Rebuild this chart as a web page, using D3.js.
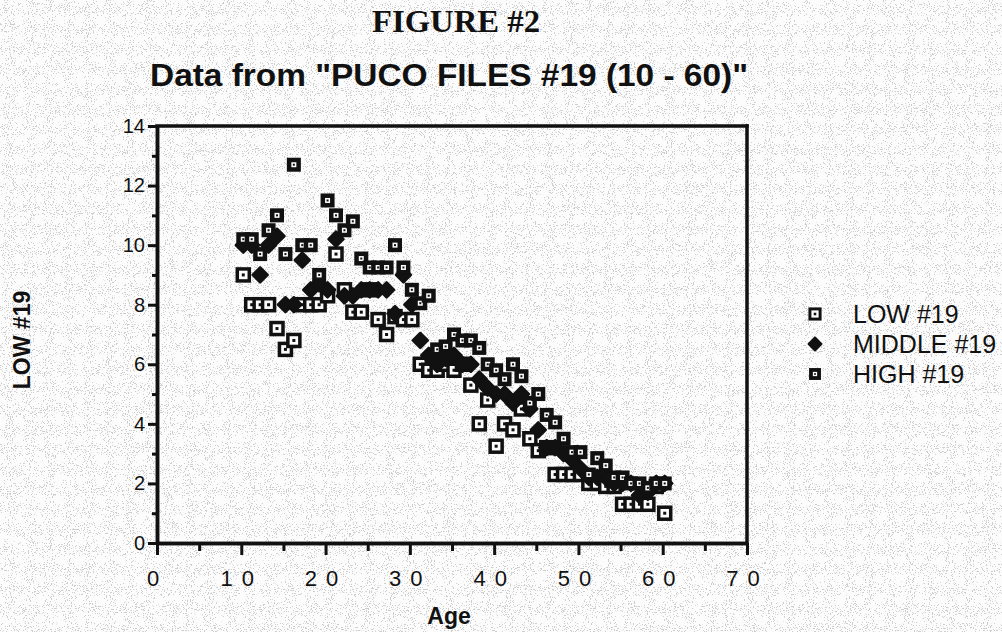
<!DOCTYPE html>
<html>
<head>
<meta charset="utf-8">
<script src="https://cdn.jsdelivr.net/npm/d3@7"></script>
<style>
	body { margin: 0; background: #fcfcfc; }
	svg { display: block; }
	text { fill: #111; }
</style>
</head>
<body>
<div id="visHolder"></div>
<script>
const ages = d3.range(10, 61);
const lowValues = [
	9.0, 8.0, 8.0, 8.0, 7.2, 6.5, 6.8, 8.0, 8.0, 8.0,
	8.3, 9.7, 8.5, 7.75, 7.75, 8.5, 7.5, 7.0, 7.6, 7.5,
	7.5, 6.0, 5.8, 5.8, 6.0, 5.8, 6.0, 5.3, 4.0, 4.8,
	3.25, 4.0, 3.8, 4.5, 3.5, 3.1, 3.2, 2.3, 2.3, 2.3,
	2.3, 2.0, 2.0, 1.9, 1.9, 1.3, 1.3, 1.3, 1.3, 1.9,
	1.0,
];
const middleValues = [
	10.0, 10.0, 9.0, 10.0, 10.3, 8.0, 8.0, 9.5, 8.5, 8.7,
	8.5, 10.2, 8.3, 8.3, 8.5, 8.5, 8.5, 8.5, 7.7, 9.0,
	8.0, 6.8, 6.3, 6.0, 6.2, 6.3, 6.0, 6.0, 5.5, 5.2,
	5.0, 5.0, 4.7, 5.0, 4.5, 3.8, 3.2, 3.2, 3.0, 2.8,
	2.5, 2.2, 2.2, 2.2, 2.0, 2.0, 2.0, 1.6, 1.7, 2.0,
	2.0,
];
const highValues = [
	10.2, 10.2, 9.7, 10.5, 11.0, 9.7, 12.7, 10.0, 10.0, 9.0,
	11.5, 11.0, 10.5, 10.8, 9.55, 9.25, 9.25, 9.25, 10.0, 9.25,
	8.5, 8.05, 8.3, 6.5, 6.6, 7.0, 6.8, 6.8, 6.55, 6.0,
	5.8, 5.5, 6.0, 5.6, 4.7, 5.0, 4.3, 4.05, 3.5, 3.05,
	3.05, 2.3, 2.85, 2.6, 2.2, 2.2, 2.0, 2.0, 1.85, 2.0,
	2.0,
];
const seriesNames = ["LOW #19", "MIDDLE #19", "HIGH #19"];
const xTicks = [0, 10, 20, 30, 40, 50, 60, 70];
const yTicks = [0, 2, 4, 6, 8, 10, 12, 14];

const width = 1002;
const height = 632;
const ink = "#111";
const paper = "#fcfcfc";
const sans = "Liberation Sans, Arial, sans-serif";

const svg = d3
	.select("#visHolder")
	.append("svg")
	.attr("width", width)
	.attr("height", height);

//paper speckle
const defs = svg.append("defs");
const noise = defs
	.append("filter")
	.attr("id", "paper")
	.attr("x", 0)
	.attr("y", 0)
	.attr("width", "100%")
	.attr("height", "100%");
noise
	.append("feTurbulence")
	.attr("type", "fractalNoise")
	.attr("baseFrequency", 0.95)
	.attr("numOctaves", 2)
	.attr("seed", 7)
	.attr("result", "n");
noise
	.append("feColorMatrix")
	.attr("in", "n")
	.attr("type", "matrix")
	.attr("values", "0 0 0 0 0.35  0 0 0 0 0.35  0 0 0 0 0.35  0 0 0 -22 8.4");
svg.append("rect").attr("width", width).attr("height", height).attr("fill", paper);
svg
	.append("rect")
	.attr("width", width)
	.attr("height", height)
	.attr("filter", "url(#paper)")
	.attr("opacity", 0.5);

const x = d3.scaleLinear().domain([0, 70]).range([157, 747]);
const y = d3.scaleLinear().domain([0, 14]).range([543, 126]);

//titles
svg
	.append("text")
	.text("FIGURE #2")
	.attr("x", 456)
	.attr("y", 32)
	.attr("text-anchor", "middle")
	.attr("textLength", 168)
	.attr("lengthAdjust", "spacingAndGlyphs")
	.attr("font-family", "Liberation Serif, serif")
	.attr("font-weight", "bold")
	.attr("font-size", 31);

svg
	.append("text")
	.text('Data from "PUCO FILES #19 (10 - 60)"')
	.attr("x", 150)
	.attr("y", 86)
	.attr("textLength", 598)
	.attr("lengthAdjust", "spacingAndGlyphs")
	.attr("font-family", sans)
	.attr("font-weight", "bold")
	.attr("font-size", 31);

//frame
const frame = svg
	.append("g")
	.attr("stroke", ink)
	.attr("stroke-width", 3.5)
	.attr("stroke-linecap", "square")
	.attr("fill", "none");
frame.append("line").attr("x1", x(0)).attr("x2", x(70)).attr("y1", y(14)).attr("y2", y(14));
frame.append("line").attr("x1", x(70)).attr("x2", x(70)).attr("y1", y(14)).attr("y2", y(0));

function styleAxis(g) {
	g.select(".domain").attr("stroke", ink).attr("stroke-width", 3.5);
	g.selectAll(".tick line").attr("stroke", ink).attr("stroke-width", 3);
	g.selectAll(".tick text").attr("fill", ink).attr("font-family", sans);
}

//minor ticks
svg
	.append("g")
	.attr("transform", `translate(${x(0)},0)`)
	.call(d3.axisLeft(y).tickValues(d3.range(1, 14, 2)).tickSize(5).tickFormat("").tickSizeOuter(0))
	.call(styleAxis);
svg
	.append("g")
	.attr("transform", `translate(0,${y(0)})`)
	.call(d3.axisBottom(x).tickValues(d3.range(5, 70, 10)).tickSize(8).tickFormat("").tickSizeOuter(0))
	.call(styleAxis);

//major ticks
const yAxis = svg
	.append("g")
	.attr("transform", `translate(${x(0)},0)`)
	.call(d3.axisLeft(y).tickValues(yTicks).tickSize(9).tickPadding(3).tickSizeOuter(0))
	.call(styleAxis);
yAxis.selectAll(".tick text").attr("font-size", 20);

const xAxis = svg
	.append("g")
	.attr("transform", `translate(0,${y(0)})`)
	.call(d3.axisBottom(x).tickValues(xTicks).tickSize(12).tickPadding(15).tickSizeOuter(0))
	.call(styleAxis);
xAxis
	.selectAll(".tick text")
	.attr("font-size", 22)
	.attr("letter-spacing", 9);

svg
	.append("text")
	.text("Age")
	.attr("x", 449)
	.attr("y", 624)
	.attr("text-anchor", "middle")
	.attr("font-family", sans)
	.attr("font-weight", "bold")
	.attr("font-size", 23);

svg
	.append("text")
	.text("LOW #19")
	.attr("transform", "translate(30,340) rotate(-90)")
	.attr("text-anchor", "middle")
	.attr("font-family", sans)
	.attr("font-weight", "bold")
	.attr("font-size", 23);

//markers
function drawLow(g) {
	g.append("rect")
		.attr("x", -6)
		.attr("y", -6)
		.attr("width", 12)
		.attr("height", 12)
		.attr("fill", paper)
		.attr("stroke", ink)
		.attr("stroke-width", 3.5);
	g.append("rect").attr("x", -1.5).attr("y", -1.5).attr("width", 3).attr("height", 3).attr("fill", ink);
}
function drawMiddle(g) {
	g.append("path")
		.attr("d", "M0,-7.5 L7.5,0 L0,7.5 L-7.5,0 Z")
		.attr("fill", ink)
		.attr("stroke", ink)
		.attr("stroke-width", 2.5)
		.attr("stroke-linejoin", "round");
}
function drawHigh(g) {
	g.append("rect").attr("x", -7).attr("y", -7).attr("width", 14).attr("height", 14).attr("fill", ink);
	g.append("rect").attr("x", -2.5).attr("y", -2.5).attr("width", 5).attr("height", 5).attr("fill", paper);
	g.append("rect").attr("x", -1).attr("y", -1).attr("width", 2).attr("height", 2).attr("fill", ink);
}

const series = [
	{ name: seriesNames[0], values: lowValues, draw: drawLow },
	{ name: seriesNames[1], values: middleValues, draw: drawMiddle },
	{ name: seriesNames[2], values: highValues, draw: drawHigh },
];

const plot = svg.append("g").attr("transform", "translate(2,0)");
series.forEach((s) => {
	plot
		.append("g")
		.selectAll("g")
		.data(ages.map((a, i) => [a, s.values[i]]))
		.join("g")
		.attr("transform", (d) => `translate(${x(d[0])},${y(d[1])})`)
		.each(function () {
			s.draw(d3.select(this));
		});
});

//legend
const legend = svg.append("g").attr("transform", "translate(815,314)");
series.forEach((s, i) => {
	const row = legend.append("g").attr("transform", `translate(0,${i * 30})`);
	const m = row.append("g").attr("transform", "scale(0.85)");
	s.draw(m);
	row
		.append("text")
		.text(s.name)
		.attr("x", 38)
		.attr("y", 9)
		.attr("font-family", sans)
		.attr("font-size", 25);
});
</script>
</body>
</html>
